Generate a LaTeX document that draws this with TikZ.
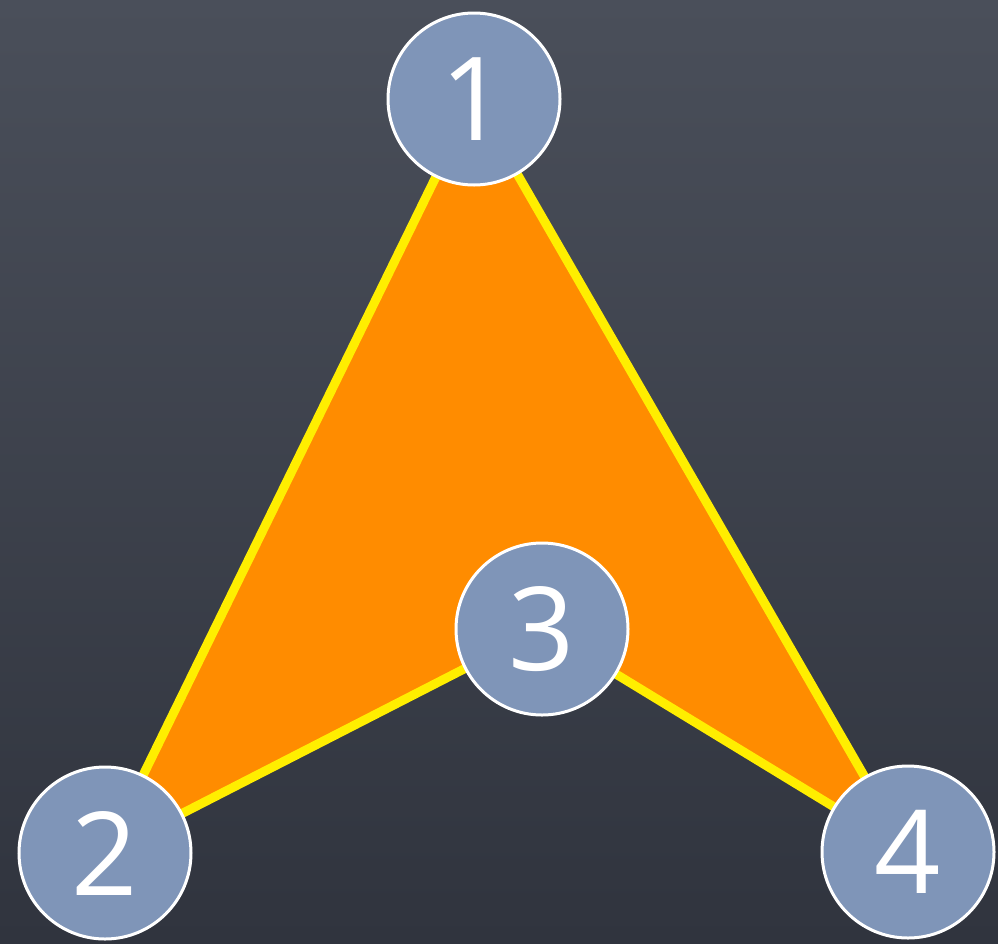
\documentclass[tikz,border=0pt]{standalone}
\usepackage{fontspec}
\setmainfont{Open Sans}
\definecolor{bgtop}{HTML}{4A4F5A}
\definecolor{bgbot}{HTML}{30343E}
\definecolor{nodefill}{HTML}{7F95B8}
\definecolor{areafill}{HTML}{FF8C00}
\definecolor{edgecol}{HTML}{FFEE00}
\begin{document}
\begin{tikzpicture}[x=1pt,y=-1pt,
  numnode/.style={circle, draw=white, line width=3pt, fill=nodefill, minimum size=172pt, inner sep=0pt, text=white, font=\fontsize{116}{116}\selectfont}]
\shade[top color=bgtop, bottom color=bgbot] (0,0) rectangle (998,943);
\useasboundingbox (0,0) rectangle (998,943);
\coordinate (c1) at (474,99);
\coordinate (c2) at (105,853);
\coordinate (c3) at (542,629);
\coordinate (c4) at (908,852);
\draw[fill=areafill, draw=edgecol, line width=9pt, line join=miter] (c1) -- (c2) -- (c3) -- (c4) -- cycle;
\node[numnode] (n1) at (c1) {1};
\node[numnode] (n2) at (c2) {2};
\node[numnode] (n3) at (c3) {3};
\node[numnode] (n4) at (c4) {4};
\end{tikzpicture}
\end{document}
